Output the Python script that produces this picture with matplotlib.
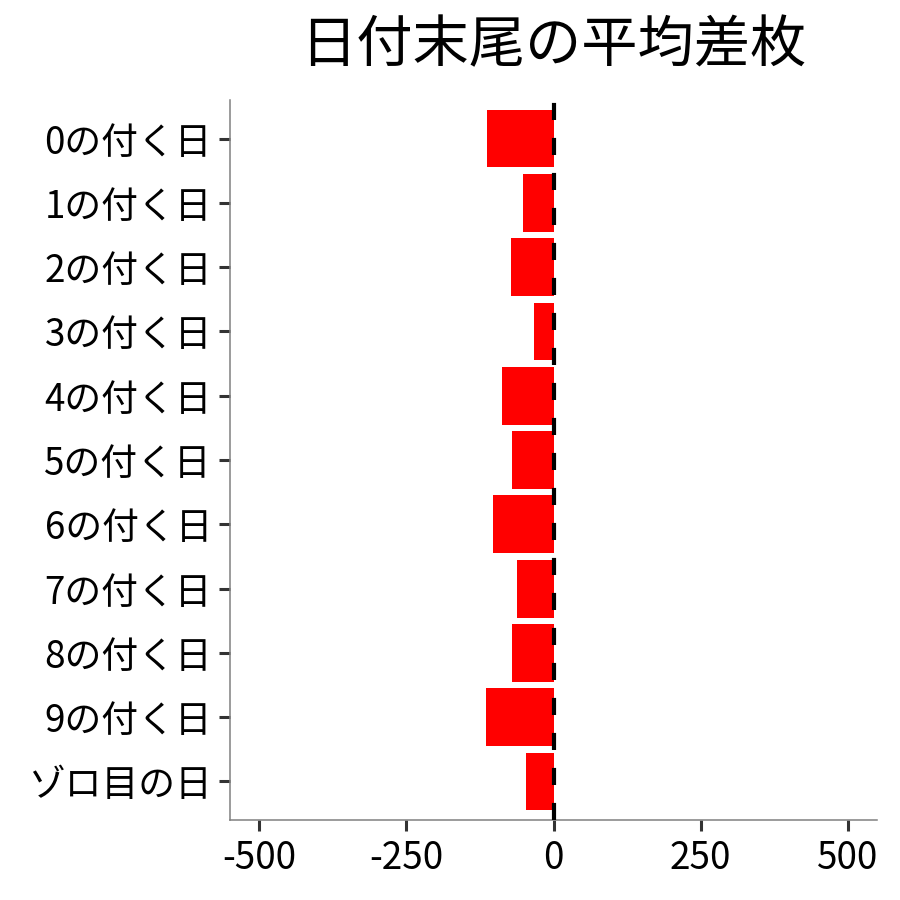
import matplotlib
matplotlib.use("Agg")
import matplotlib.pyplot as plt

plt.rcParams['font.family'] = ['Noto Sans CJK JP', 'DejaVu Sans']

# data
labels = ['0の付く日', '1の付く日', '2の付く日', '3の付く日', '4の付く日',
          '5の付く日', '6の付く日', '7の付く日', '8の付く日', '9の付く日',
          'ゾロ目の日']
values = [-113, -52, -72, -33, -88, -70, -103, -62, -70, -115, -47]
xticks = [-500, -250, 0, 250, 500]
title = '日付末尾の平均差枚'

fig = plt.figure(figsize=(9, 9), dpi=100)
ax = fig.add_axes([230 / 900, 1 - 820 / 900, 647 / 900, 720 / 900])

pos = list(range(len(labels)))
ax.barh(pos, values, height=0.9, color='#FF0000', zorder=2)

ax.set_ylim(len(labels) - 0.4, -0.6)
ax.set_xlim(-550, 550)

# dashed zero line, drawn from the bottom up like ggplot
ax.plot([0, 0], [len(labels) - 0.4, -0.6], color='black', lw=3.0,
        linestyle=(0, (4.1, 4.3)), zorder=3, solid_capstyle='butt',
        dash_capstyle='butt', clip_on=False)

ax.set_yticks(pos)
ax.set_yticklabels(labels)
ax.set_xticks(xticks)
ax.set_xticklabels([str(t) for t in xticks])

for s in ['top', 'right']:
    ax.spines[s].set_visible(False)
for s in ['left', 'bottom']:
    ax.spines[s].set_color('#808080')
    ax.spines[s].set_linewidth(1.1)

ax.tick_params(axis='both', length=8, width=2.2, color='#333333',
               labelsize=26.5, labelcolor='black')
ax.tick_params(axis='y', pad=5)
ax.tick_params(axis='x', pad=6)

fig.text(553 / 900, 1 - 46 / 900, title, fontsize=40.5, ha='center',
         va='center', color='black')

fig.savefig('out.png', dpi=100, facecolor='white')
